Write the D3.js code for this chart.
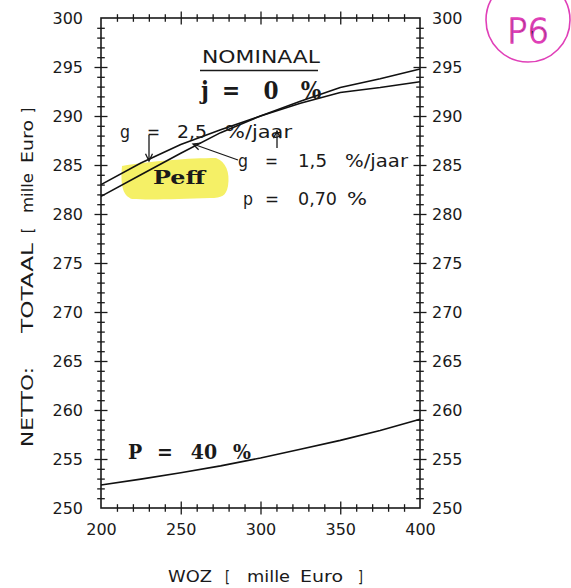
<!DOCTYPE html>
<html>
<head>
<meta charset="utf-8">
<script src="https://cdn.jsdelivr.net/npm/d3@7"></script>
<style>
  html, body { margin: 0; padding: 0; background: #fff; }
  svg { display: block; }
  text { font-family: "DejaVu Sans", sans-serif; fill: #1a1a1a; }
  .bold { font-family: "DejaVu Serif Condensed", "DejaVu Serif", serif; font-weight: bold; }
</style>
</head>
<body>
<svg id="chart" width="571" height="588"></svg>
<script>
// WOZ value (mille Euro) on the horizontal axis
const woz = [200, 225, 250, 275, 300, 325, 350, 375, 400];
// Net total (mille Euro), Peff with WOZ growth 2,5 %/jaar
const peffG25 = [283.0, 285.2, 287.1, 288.6, 290.0, 291.3, 292.4, 292.9, 293.5];
// Net total (mille Euro), Peff with WOZ growth 1,5 %/jaar
const peffG15 = [281.8, 284.0, 286.2, 288.3, 290.0, 291.5, 292.9, 293.8, 294.8];
// Net total (mille Euro), P = 40 %
const p40 = [252.35, 252.95, 253.6, 254.3, 255.1, 256.0, 256.9, 257.9, 259.05];

const xMajor = [200, 250, 300, 350, 400];
const yMajor = [250, 255, 260, 265, 270, 275, 280, 285, 290, 295, 300];

const svg = d3.select("#chart");
const L = 101, R = 420, T = 18, B = 508;
const x = d3.scaleLinear().domain([200, 400]).range([L, R]);
const y = d3.scaleLinear().domain([250, 300]).range([B, T]);

// yellow marker behind the Peff label
svg.append("path")
  .attr("d", "M122,166 C150,161 190,158 216,158 C226,162 230,172 228,186 C226,196 222,198 210,198 C180,199 150,200 132,199 C124,196 120,188 122,166 Z")
  .attr("fill", "#f4ee55")
  .attr("opacity", 0.9);

// frame
svg.append("rect")
  .attr("x", L).attr("y", T).attr("width", R - L).attr("height", B - T)
  .attr("fill", "none").attr("stroke", "#1a1a1a").attr("stroke-width", 1.6);

// tick marks crossing the frame on all four sides
const xTicks = d3.range(210, 400, 10);
const yTicks = d3.range(251, 300, 1);
const isMajorX = v => v % 50 === 0;
const isMajorY = v => v % 5 === 0;

function crossTicks(axisGen, values, isMajor, vertical) {
  const g = svg.append("g");
  g.call(axisGen.tickValues(values).tickSize(0).tickFormat(""));
  g.select(".domain").remove();
  g.selectAll(".tick line").each(function(d) {
    const k = isMajor(d) ? 6.5 : 3.8;
    const sel = d3.select(this).attr("stroke", "#1a1a1a").attr("stroke-width", 1.3);
    if (vertical) sel.attr("y1", -k).attr("y2", k);
    else sel.attr("x1", -k).attr("x2", k);
  });
  return g;
}
crossTicks(d3.axisLeft(y), yTicks, isMajorY, false).attr("transform", `translate(${L},0)`);
crossTicks(d3.axisRight(y), yTicks, isMajorY, false).attr("transform", `translate(${R},0)`);
crossTicks(d3.axisBottom(x), xTicks, isMajorX, true).attr("transform", `translate(0,${B})`);
crossTicks(d3.axisTop(x), xTicks, isMajorX, true).attr("transform", `translate(0,${T})`);

// tick labels
function labels(axisGen, values, pad, tr) {
  const g = svg.append("g").attr("transform", tr);
  g.call(axisGen.tickValues(values).tickSize(0).tickPadding(pad).tickFormat(d3.format("d")));
  g.select(".domain").remove();
  g.selectAll("text").attr("font-family", "DejaVu Sans").attr("font-size", 16).attr("fill", "#1a1a1a");
  return g;
}
labels(d3.axisLeft(y), yMajor, 18, `translate(${L},0)`);
labels(d3.axisRight(y), yMajor, 12, `translate(${R},0)`);
labels(d3.axisBottom(x), xMajor, 16, `translate(0,${B})`);

// curves
const line = d3.line().x((d, i) => x(woz[i])).y(d => y(d));
[peffG25, peffG15, p40].forEach(s => {
  svg.append("path").attr("d", line(s))
    .attr("fill", "none").attr("stroke", "#111").attr("stroke-width", 1.6);
});

// wide sans pieces: [text, x, width]
function wide(parts, yBase, size, tr) {
  const t = svg.append("text").attr("y", yBase).attr("font-size", size);
  if (tr) t.attr("transform", tr);
  parts.forEach(([s, px, w]) => {
    const ts = t.append("tspan").attr("x", px).text(s);
    if (w) ts.attr("textLength", w).attr("lengthAdjust", "spacingAndGlyphs");
  });
  return t;
}

// axis titles
wide([["WOZ", 168, 44], ["[", 225, 5], ["mille", 247, 43], ["Euro", 300, 43], ["]", 358, 5]], 582, 15);
wide([["NETTO:", -447, 80], ["TOTAAL", -333, 90], ["[", -233, 5], ["mille", -213, 40], ["Euro", -163, 43], ["]", -113, 5]],
  0, 15, "translate(33,0) rotate(-90)");

// annotations
wide([["NOMINAAL", 202, 118]], 63, 17);
svg.append("line").attr("x1", 200).attr("x2", 318).attr("y1", 70.5).attr("y2", 70.5)
  .attr("stroke", "#1a1a1a").attr("stroke-width", 1.6);

function pieces(parts, yBase, size, cls) {
  const t = svg.append("text").attr("y", yBase).attr("font-size", size);
  if (cls) t.attr("class", cls);
  parts.forEach(([s, px, anchor]) => {
    t.append("tspan").attr("x", px).attr("text-anchor", anchor || "start").text(s);
  });
  return t;
}
pieces([["j", 205, "middle"], ["=", 231, "middle"], ["0", 271, "middle"], ["%", 311, "middle"]], 99, 24, "bold");
pieces([["P", 135, "middle"], ["=", 165, "middle"], ["40", 204, "middle"], ["%", 242, "middle"]], 459, 21, "bold");

svg.append("text").attr("class", "bold").attr("x", 153).attr("y", 184).attr("font-size", 19)
  .attr("textLength", 52).attr("lengthAdjust", "spacingAndGlyphs").text("Peff");

wide([["g", 120, 10], ["=", 147, 13], ["2,5", 177, 30], ["%/jaar", 225, 67]], 138, 17);
wide([["g", 238, 10], ["=", 265, 13], ["1,5", 298, 29], ["%/jaar", 345, 63]], 167, 17);
wide([["p", 243, 10], ["=", 265, 14], ["0,70", 298, 39], ["%", 347, 20]], 205, 17);

// arrows
function arrow(x1, y1, x2, y2) {
  const a = Math.atan2(y2 - y1, x2 - x1), h = 8, w = 0.45;
  svg.append("path")
    .attr("d", `M${x1},${y1}L${x2},${y2}` +
      `M${x2 - h * Math.cos(a - w)},${y2 - h * Math.sin(a - w)}L${x2},${y2}` +
      `L${x2 - h * Math.cos(a + w)},${y2 - h * Math.sin(a + w)}`)
    .attr("fill", "none").attr("stroke", "#1a1a1a").attr("stroke-width", 1.3);
}
arrow(149, 135, 149, 161);
arrow(238, 160, 193, 144);
arrow(277, 148, 277, 131);

// page mark
svg.append("ellipse").attr("cx", 528).attr("cy", 20).attr("rx", 42).attr("ry", 42)
  .attr("fill", "none").attr("stroke", "#e040b8").attr("stroke-width", 1.6);
svg.append("text").attr("x", 507).attr("y", 43).attr("font-size", 34)
  .attr("font-family", "DejaVu Sans").attr("font-weight", 300)
  .attr("fill", "none").attr("stroke", "#e040b8").attr("stroke-width", 1.3)
  .text("P6");
</script>
</body>
</html>
